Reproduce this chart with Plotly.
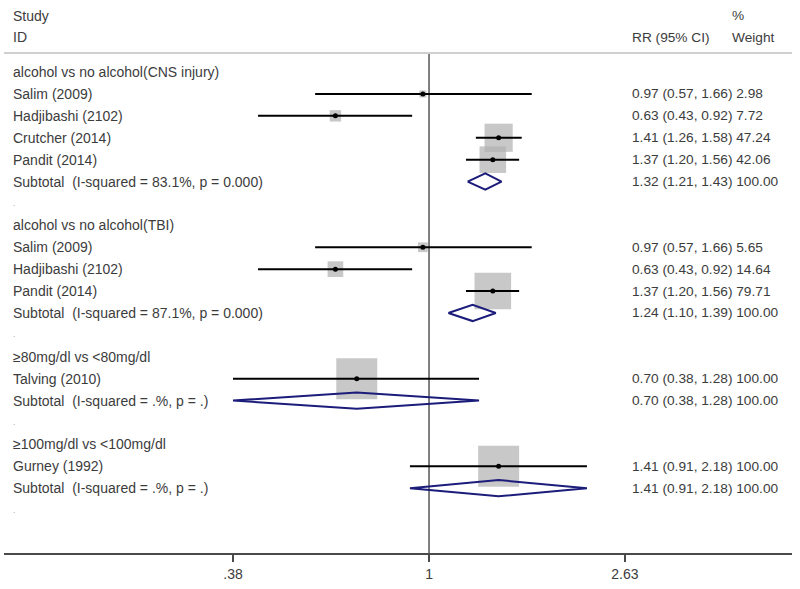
import math
import plotly.graph_objects as go

# ---- data ----
row_labels = [
    "alcohol vs no alcohol(CNS injury)", "Salim (2009)", "Hadjibashi (2102)", "Crutcher (2014)", "Pandit (2014)",
    "Subtotal  (I-squared = 83.1%, p = 0.000)", ".",
    "alcohol vs no alcohol(TBI)", "Salim (2009)", "Hadjibashi (2102)", "Pandit (2014)",
    "Subtotal  (I-squared = 87.1%, p = 0.000)", ".",
    "≥80mg/dl vs <80mg/dl", "Talving (2010)", "Subtotal  (I-squared = .%, p = .)", ".",
    "≥100mg/dl vs <100mg/dl", "Gurney (1992)", "Subtotal  (I-squared = .%, p = .)", ".",
]
# row type: h=header, s=study, t=subtotal, d=dot
row_types = ["h", "s", "s", "s", "s", "t", "d",
             "h", "s", "s", "s", "t", "d",
             "h", "s", "t", "d",
             "h", "s", "t", "d"]
rr = [None, 0.97, 0.63, 1.41, 1.37, 1.32, None,
      None, 0.97, 0.63, 1.37, 1.24, None,
      None, 0.70, 0.70, None,
      None, 1.41, 1.41, None]
ci_low = [None, 0.57, 0.43, 1.26, 1.20, 1.21, None,
          None, 0.57, 0.43, 1.20, 1.10, None,
          None, 0.38, 0.38, None,
          None, 0.91, 0.91, None]
ci_high = [None, 1.66, 0.92, 1.58, 1.56, 1.43, None,
           None, 1.66, 0.92, 1.56, 1.39, None,
           None, 1.28, 1.28, None,
           None, 2.18, 2.18, None]
weights = [None, 2.98, 7.72, 47.24, 42.06, 100.00, None,
           None, 5.65, 14.64, 79.71, 100.00, None,
           None, 100.00, 100.00, None,
           None, 100.00, 100.00, None]
tick_vals = [0.38, 1, 2.63]
tick_text = [".38", "1", "2.63"]

# ---- styles ----
FONT = "Liberation Sans, Arial, sans-serif"
TXT = "#3c3c3c"
NAVY = "#1c1c7a"
GRAY = "#b0b0b0"
FS = 14
FS_R = 13.7

fig = go.Figure()

rows = list(range(len(row_labels)))
study_idx = [i for i in rows if row_types[i] == "s"]
sub_idx = [i for i in rows if row_types[i] == "t"]

# weight squares
fig.add_trace(go.Scatter(
    x=[rr[i] for i in study_idx], y=study_idx, mode="markers",
    marker=dict(symbol="square", color=GRAY, line=dict(width=0),
                size=[4.1 * math.sqrt(weights[i]) for i in study_idx]),
    hoverinfo="skip", showlegend=False))

# CI lines
cx, cy = [], []
for i in study_idx:
    cx += [ci_low[i], ci_high[i], None]
    cy += [i, i, None]
fig.add_trace(go.Scatter(x=cx, y=cy, mode="lines", line=dict(color="black", width=2),
                         hoverinfo="skip", showlegend=False))

# point estimates
fig.add_trace(go.Scatter(
    x=[rr[i] for i in study_idx], y=study_idx, mode="markers",
    marker=dict(symbol="circle", color="black", size=5),
    hoverinfo="skip", showlegend=False))

# null line
fig.add_trace(go.Scatter(x=[1, 1], y=[-0.87, 21.96], mode="lines",
                         line=dict(color="black", width=1),
                         hoverinfo="skip", showlegend=False))

# subtotal diamonds
H = 0.37
for i in sub_idx:
    fig.add_trace(go.Scatter(
        x=[ci_low[i], rr[i], ci_high[i], rr[i], ci_low[i]],
        y=[i, i - H, i, i + H, i], mode="lines",
        line=dict(color=NAVY, width=2), hoverinfo="skip", showlegend=False))

# texts
ann = []
def add_text(x, y, t, size=FS):
    ann.append(dict(x=x, y=y, xref="paper", yref="y", text=t, showarrow=False,
                    xanchor="left", yanchor="middle", xshift=-2,
                    font=dict(family=FONT, size=size, color=TXT)))

add_text(0.0114, -2.56, "Study")
add_text(0.0114, -1.6, "ID")
add_text(0.797, -1.6, "RR (95% CI)", FS_R)
add_text(0.924, -2.56, "%", FS_R)
add_text(0.924, -1.6, "Weight", FS_R)
for i in rows:
    lab = row_labels[i]
    if row_types[i] == "d":
        add_text(0.0114, i, "<span style='font-size:8px;color:#888'>.</span>")
    else:
        add_text(0.0114, i, lab)
    if rr[i] is not None:
        add_text(0.797, i, f"{rr[i]:.2f} ({ci_low[i]:.2f}, {ci_high[i]:.2f}) {weights[i]:.2f}", FS_R)

fig.update_layout(
    width=800, height=589,
    margin=dict(l=4, r=8, t=0, b=36),
    paper_bgcolor="white", plot_bgcolor="white",
    annotations=ann,
    shapes=[dict(type="line", xref="paper", yref="y", x0=0, x1=1, y0=-0.87, y1=-0.87,
                 line=dict(color="#d0d0d0", width=2))],
    xaxis=dict(type="log", range=[-0.911, 0.778], showgrid=False, zeroline=False,
               showline=True, linecolor="#4a4a4a", linewidth=1.5,
               ticks="outside", ticklen=7, tickcolor="#4a4a4a", tickwidth=1.5,
               tickvals=tick_vals, ticktext=tick_text, ticklabelstandoff=0,
               tickfont=dict(family=FONT, size=FS, color=TXT)),
    yaxis=dict(range=[21.96, -3.29], showgrid=False, zeroline=False, showline=False,
               showticklabels=False, ticks=""),
    font=dict(family=FONT, color=TXT),
    hovermode=False,
)

fig.write_html("out.html", config={"displayModeBar": False},
               post_script="document.body.style.margin='0px';document.body.style.overflow='hidden';")
